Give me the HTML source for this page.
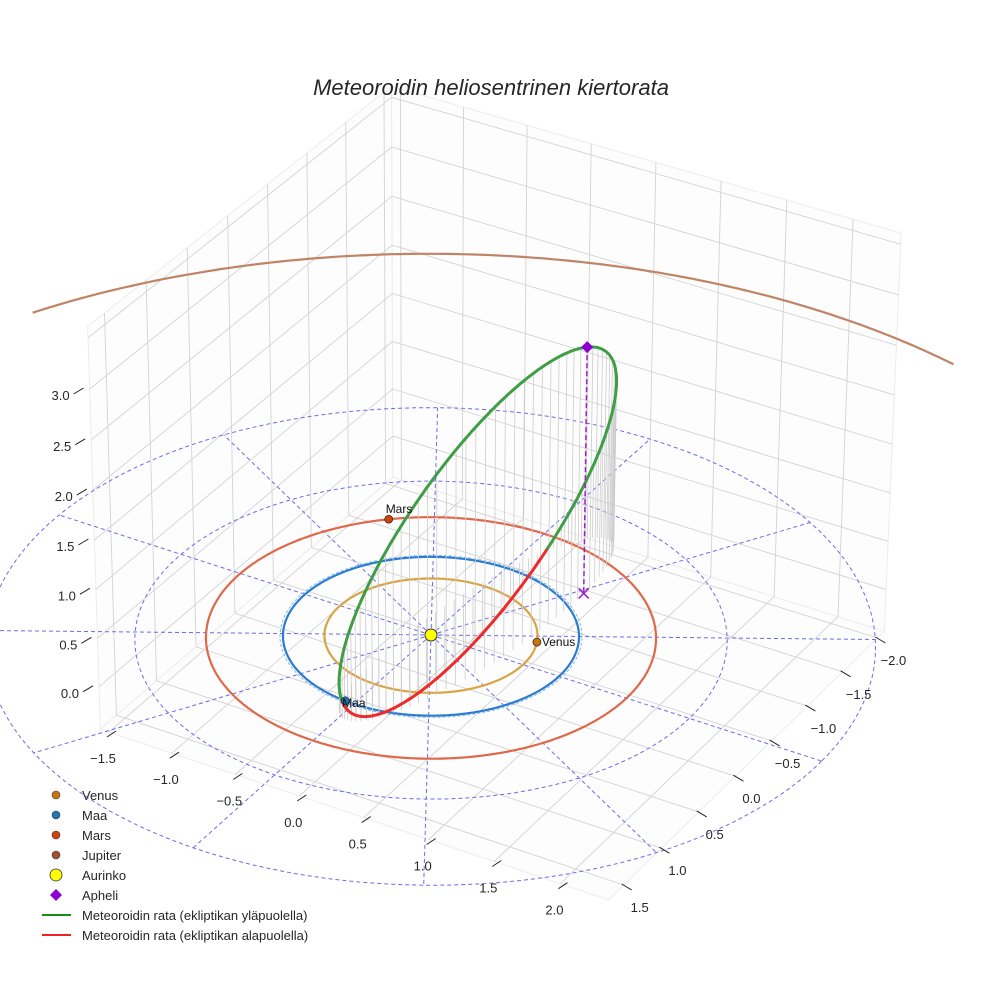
<!DOCTYPE html>
<html><head><meta charset="utf-8"><style>
html,body{margin:0;padding:0;background:#fff;overflow:hidden;width:984px;height:984px;}
svg{display:block;font-family:"Liberation Sans",sans-serif;}
</style></head><body>
<svg id="chart" width="984" height="984" viewBox="0 0 984 984" xmlns="http://www.w3.org/2000/svg">
<defs><clipPath id="frame"><rect x="0" y="0" width="984" height="984"/></clipPath></defs>
<rect width="984" height="984" fill="#fff"/>
<g clip-path="url(#frame)">
<g id="panes"></g>
<g id="plane"></g>
<g id="orbits"></g>
<g id="drops"></g>
<g id="meteor"></g>
<g id="marks"></g>
<g id="ticks"></g>
<g id="legend"></g>
</g>
<text x="491" y="95" text-anchor="middle" font-size="22" font-style="italic" fill="#262626">Meteoroidin heliosentrinen kiertorata</text>
</svg>
<script>
// ---- data ----
const xTicks=[-1.5,-1.0,-0.5,0.0,0.5,1.0,1.5,2.0];
const yTicks=[-2.0,-1.5,-1.0,-0.5,0.0,0.5,1.0,1.5];
const zTicks=[0.0,0.5,1.0,1.5,2.0,2.5,3.0];
const planetNames=["Venus","Maa","Mars","Jupiter"];
const planetRadii=[0.72,1.0,1.52,5.2];
const planetAngles=[-24,94,-132,null];
const polarRadii=[1,2,3];
const polarAngles=[0,30,60,90,120,150,180,210,240,270,300,330];
const aphelion=[0.62,-0.99,2.52];
const perihelion=[-0.16,0.50,-0.555];
const minorAxis=[0.04,1.23,0.73];
// ---- projection ----
const xmin=-1.57,xmax=2.36,ymin=-2.1,ymax=1.7,zmin=-0.44,zmax=3.61;
function proj(x,y,z){
  const d=-(0.514*x+0.857*y);
  const w=1+0.016*d-0.009*z;
  return [431+(127*x-76*y)/w, 635+(41*x+68*y-96*z)/w];
}
const NS="http://www.w3.org/2000/svg";
function mk(tag,attrs,parent){const e=document.createElementNS(NS,tag);for(const k in attrs)e.setAttribute(k,attrs[k]);parent.appendChild(e);return e;}
function line(p,q,st,par){return mk('line',Object.assign({x1:p[0].toFixed(1),y1:p[1].toFixed(1),x2:q[0].toFixed(1),y2:q[1].toFixed(1)},st),par);}
function pathOf(pts){return pts.map((p,i)=>(i?'L':'M')+p[0].toFixed(1)+' '+p[1].toFixed(1)).join(' ');}
const g=id=>document.getElementById(id);
// ---- panes ----
const panes=g('panes');
const gridSt={stroke:'#d3d3d3','stroke-width':'0.9'};
let el;
el=mk('path',{d:pathOf([proj(xmin,ymin,zmax),proj(xmin,ymin,zmin),proj(xmin,ymax,zmin),proj(xmin,ymax,zmax)])+'Z',fill:'#fdfdfd',stroke:'#ececec'},panes);

el=mk('path',{d:pathOf([proj(xmin,ymin,zmax),proj(xmax,ymin,zmax),proj(xmax,ymin,zmin),proj(xmin,ymin,zmin)])+'Z',fill:'#fdfdfd',stroke:'#ececec'},panes);

el=mk('path',{d:pathOf([proj(xmin,ymin,zmin),proj(xmax,ymin,zmin),proj(xmax,ymax,zmin),proj(xmin,ymax,zmin)])+'Z',fill:'#fdfdfd',stroke:'#ececec'},panes);

yTicks.forEach(y=>{
  el=line(proj(xmin,y,zmin),proj(xmin,y,zmax),gridSt,panes);
  
  el=line(proj(xmin,y,zmin),proj(xmax,y,zmin),gridSt,panes);
  
});
xTicks.forEach(x=>{
  el=line(proj(x,ymin,zmin),proj(x,ymin,zmax),gridSt,panes);
  
  el=line(proj(x,ymin,zmin),proj(x,ymax,zmin),gridSt,panes);
  
});
zTicks.concat([3.5]).forEach(z=>{
  el=line(proj(xmin,ymin,z),proj(xmin,ymax,z),gridSt,panes);
  
  el=line(proj(xmin,ymin,z),proj(xmax,ymin,z),gridSt,panes);
  
});
// ---- ecliptic polar grid ----
const plane=g('plane');
const dashSt={stroke:'#6b6bea','stroke-width':'1','stroke-dasharray':'4 3',fill:'none'};
function circlePts(r,n){const a=[];for(let i=0;i<=n;i++){const t=i/n*2*Math.PI;a.push(proj(r*Math.cos(t),r*Math.sin(t),0));}return a;}
polarRadii.forEach(r=>{
  el=mk('path',Object.assign({d:pathOf(circlePts(r,240))},dashSt),plane);
  
});
const rMax=Math.max(...polarRadii);
polarAngles.forEach(a=>{
  const t=a*Math.PI/180;
  el=line(proj(0,0,0),proj(rMax*Math.cos(t),rMax*Math.sin(t),0),dashSt,plane);
  
});
// ---- planet orbits ----
const orbits=g('orbits');
const orbitColors=['#d9a444','#2c7bd0','#e0684a','#bf8466'];
planetRadii.forEach((r,i)=>{
  let pts=circlePts(r,720);
  if(r>4){
    // only the far (upper) arc of the outer orbit is visible
    let best=0;pts.forEach((p,k)=>{if(p[1]<pts[best][1])best=k;});
    const n=pts.length-1, arc=[];
    for(let k=-150;k<=150;k++){const p=pts[((best+k)%n+n)%n];if(p[0]>=30&&p[0]<=955)arc.push(p);}
    pts=arc;
  }
  el=mk('path',{d:pathOf(pts),fill:'none',stroke:orbitColors[i],'stroke-width':'2.2'},orbits);
  
});
el=mk('path',{d:pathOf(circlePts(1.02,360)),fill:'none',stroke:'#7fb8ea','stroke-width':'1','stroke-dasharray':'3 2'},orbits);

// ---- meteoroid orbit ----
const C=[0,1,2].map(i=>(aphelion[i]+perihelion[i])/2);
const P=[0,1,2].map(i=>(aphelion[i]-perihelion[i])/2);
function orb(th){return [0,1,2].map(i=>C[i]+P[i]*Math.cos(th)+minorAxis[i]*Math.sin(th));}
const drops=g('drops'), met=g('meteor');
const N=360;
let segs=[],cur=null;
for(let i=0;i<=N;i++){
  const th=i/N*2*Math.PI, p=orb(th), above=p[2]>=0;
  if(!cur||cur.above!==above){ if(cur){cur.pts.push(proj(...p));} cur={above,pts:[]};segs.push(cur);}
  cur.pts.push(proj(...p));
  if(i%4===0&&i<N){
    el=line(proj(...p),proj(p[0],p[1],0),{stroke:'#cccccc','stroke-width':'0.8'},drops);
    
  }
}
segs.forEach(s=>{
  el=mk('path',{d:pathOf(s.pts),fill:'none',stroke:s.above?'#3f9e45':'#ee2a2a','stroke-width':'3','stroke-linecap':'round'},met);
  
});
// ---- markers ----
const marks=g('marks');
const apP=proj(...aphelion), apB=proj(aphelion[0],aphelion[1],0);
el=line(apP,apB,{stroke:'#9a1fd0','stroke-width':'1.5','stroke-dasharray':'5 3'},marks);

el=mk('path',{d:`M${apB[0]-5} ${apB[1]-5}L${apB[0]+5} ${apB[1]+5}M${apB[0]-5} ${apB[1]+5}L${apB[0]+5} ${apB[1]-5}`,stroke:'#9a1fd0','stroke-width':'1.5'},marks);

el=mk('path',{d:`M${apP[0]} ${apP[1]-6}L${apP[0]+6} ${apP[1]}L${apP[0]} ${apP[1]+6}L${apP[0]-6} ${apP[1]}Z`,fill:'#8b00d0'},marks);

const markerColors=['#c8780a','#1f77b4','#d0440c','#a0522d'];
const labelDx=[5,-3,-3,0], labelDy=[4,6,-6,0];
planetAngles.forEach((a,i)=>{
  if(a===null)return;
  const t=a*Math.PI/180, p=proj(planetRadii[i]*Math.cos(t),planetRadii[i]*Math.sin(t),0);
  el=mk('circle',{cx:p[0].toFixed(1),cy:p[1].toFixed(1),r:'4',fill:markerColors[i],stroke:'#222','stroke-width':'0.7'},marks);
  
  el=mk('text',{x:(p[0]+labelDx[i]).toFixed(1),y:(p[1]+labelDy[i]).toFixed(1),'font-size':'12',fill:'#111'},marks);
  el.textContent=planetNames[i];
  
});
const sp=proj(0,0,0);
el=mk('circle',{cx:sp[0],cy:sp[1],r:'6',fill:'#ffff00',stroke:'#333','stroke-width':'1'},marks);

// ---- ticks ----
const ticks=g('ticks');
const tickSt={stroke:'#222','stroke-width':'1'};
xTicks.forEach(x=>{
  const p=proj(x,ymax,zmin);
  el=line([p[0]-2,p[1]+5],[p[0]+7,p[1]-1],tickSt,ticks);
  
  el=mk('text',{x:(p[0]-6).toFixed(1),y:(p[1]+31).toFixed(1),'font-size':'13','text-anchor':'middle',fill:'#262626'},ticks);
  el.textContent=x.toFixed(1).replace('-','\u2212');
  
});
yTicks.forEach(y=>{
  const p=proj(xmax,y,zmin);
  el=line([p[0]-2,p[1]-1],[p[0]+8,p[1]+5],tickSt,ticks);
  
  el=mk('text',{x:(p[0]+16).toFixed(1),y:(p[1]+27).toFixed(1),'font-size':'13','text-anchor':'middle',fill:'#262626'},ticks);
  el.textContent=y.toFixed(1).replace('-','\u2212');
  
});
zTicks.forEach(z=>{
  const p=proj(xmin,ymax,z);
  el=line([p[0]-16,p[1]+5],[p[0]-6,p[1]-1],tickSt,ticks);
  
  el=mk('text',{x:(p[0]-20).toFixed(1),y:(p[1]+11).toFixed(1),'font-size':'13','text-anchor':'end',fill:'#262626'},ticks);
  el.textContent=z.toFixed(1);
  
});
// ---- legend ----
const legend=g('legend');
const legendLabels=["Venus","Maa","Mars","Jupiter","Aurinko","Apheli","Meteoroidin rata (ekliptikan yläpuolella)","Meteoroidin rata (ekliptikan alapuolella)"];
legendLabels.forEach((lab,i)=>{
  const y=795+i*20;
  if(i<4){el=mk('circle',{cx:56,cy:y,r:'4',fill:markerColors[i],stroke:'#333','stroke-width':'0.6'},legend);}
  else if(i===4){el=mk('circle',{cx:56,cy:y,r:'6',fill:'#ffff00',stroke:'#333','stroke-width':'0.8'},legend);}
  else if(i===5){el=mk('path',{d:`M56 ${y-6}L62 ${y}L56 ${y+6}L50 ${y}Z`,fill:'#8b00d0'},legend);}
  else {el=mk('line',{x1:42,y1:y,x2:71,y2:y,stroke:i===6?'#1a8a1a':'#ee2222','stroke-width':'2'},legend);}
  
  el=mk('text',{x:82,y:y+5,'font-size':'13',fill:'#262626'},legend);
  el.textContent=lab;
  
});
</script>
</body></html>
